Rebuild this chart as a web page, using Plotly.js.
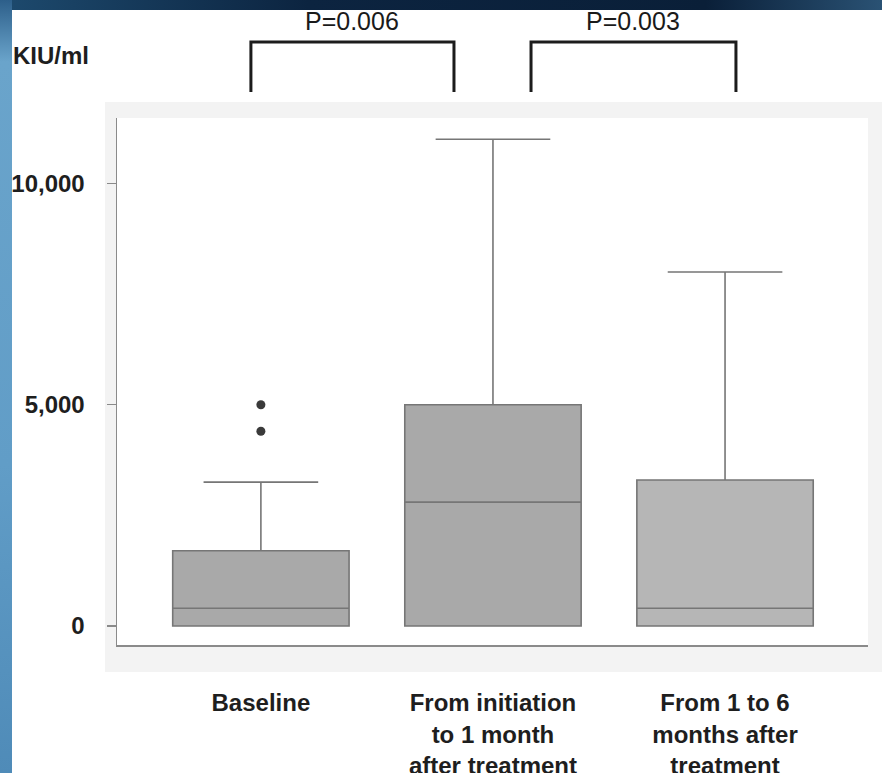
<!DOCTYPE html>
<html><head><meta charset="utf-8">
<script src="https://cdn.plot.ly/plotly-3.0.1.min.js"></script>
<style>
html,body{margin:0;padding:0;width:882px;height:773px;overflow:hidden;background:#fff;}
#bgtop{position:absolute;left:0;top:0;width:882px;height:10px;background:linear-gradient(90deg,#1d4a6e 0%,#0c2440 35%,#0a1f38 80%,#2a5274 100%);}
#bgleft{position:absolute;left:0;top:0;width:12px;height:773px;background:linear-gradient(180deg,#2d5f8a 0%,#6aa4cb 8%,#619dc7 60%,#4f8bb8 100%);}
#chart{position:absolute;left:0;top:0;width:882px;height:773px;}
</style></head><body>
<div id="bgtop"></div><div id="bgleft"></div><div id="chart"></div>
<script>
// ---- data ----
const categories = ["Baseline", "From initiation<br>to 1 month<br>after treatment", "From 1 to 6<br>months after<br>treatment"];
const q1Values = [0, 0, 0];
const medianValues = [400, 2800, 400];
const q3Values = [1700, 5000, 3300];
const lowerWhiskers = [0, 0, 0];
const upperWhiskers = [3250, 11000, 8000];
const outlierGroup = [0, 0];
const outlierValues = [5000, 4400];
const yTickVals = [0, 5000, 10000];
const yTickText = ["0", "5,000", "10,000"];
const pLabels = ["P=0.006", "P=0.003"];
const bracketLeft = [-0.043, 1.164];
const bracketRight = [0.832, 2.047];
const yUnit = "KIU/ml";

// ---- styles ----
const fills = ['#a9a9a9', '#a9a9a9', '#b6b6b6'];
const FONT = '"Liberation Sans", Arial, sans-serif';
const boldFont = (s) => ({family: FONT, size: s, color: '#1e1e1e', weight: 700});

const traces = categories.map((c, i) => ({
  type: 'box',
  x: [i],
  q1: [q1Values[i]],
  median: [medianValues[i]],
  q3: [q3Values[i]],
  lowerfence: [lowerWhiskers[i]],
  upperfence: [upperWhiskers[i]],
  width: 0.76,
  whiskerwidth: 0.65,
  fillcolor: fills[i],
  line: {color: '#767676', width: 1.6},
  boxpoints: false,
  hoverinfo: 'skip',
  showlegend: false
}));
traces.push({
  type: 'scatter', mode: 'markers',
  x: outlierGroup, y: outlierValues,
  marker: {color: '#3a3a3a', size: 9},
  hoverinfo: 'skip', showlegend: false
});

const W = 882 - 117 - 14, H = 773 - 118 - 128;
const px2paperX = (p) => (p - 117) / W;
const px2paperY = (p) => (645 - p) / H;

const shapes = [
  {type: 'rect', xref: 'paper', yref: 'paper', x0: px2paperX(105), x1: px2paperX(882), y0: px2paperY(672), y1: px2paperY(102),
   fillcolor: '#f3f3f3', line: {width: 0}, layer: 'below'},
  {type: 'rect', xref: 'paper', yref: 'paper', x0: 0, x1: 1, y0: 0, y1: 1,
   fillcolor: '#ffffff', line: {width: 0}, layer: 'below'}
];
const yb = px2paperY(92), yt = px2paperY(42);
bracketLeft.forEach((l, i) => {
  const r = bracketRight[i];
  shapes.push({type: 'path', xref: 'x', yref: 'paper',
    path: `M ${l},${yb} L ${l},${yt} L ${r},${yt} L ${r},${yb}`,
    line: {color: '#1c1c1c', width: 3}});
});

const annotations = [
  {text: yUnit, xref: 'paper', yref: 'paper', x: px2paperX(11), y: px2paperY(56),
   xanchor: 'left', yanchor: 'middle', showarrow: false, font: boldFont(24)}
];
pLabels.forEach((t, i) => {
  annotations.push({text: t, xref: 'x', yref: 'paper', x: (bracketLeft[i] + bracketRight[i]) / 2, y: px2paperY(21),
    xanchor: 'center', yanchor: 'middle', showarrow: false,
    font: {family: FONT, size: 25, color: '#1a1a1a'}});
});

const layout = {
  width: 882, height: 773,
  margin: {l: 117, r: 14, t: 118, b: 128},
  paper_bgcolor: 'rgba(0,0,0,0)',
  plot_bgcolor: '#ffffff',
  showlegend: false,
  xaxis: {
    range: [-0.62, 2.616],
    tickvals: [0, 1, 2], ticktext: categories,
    showline: true, linecolor: '#8a8a8a', linewidth: 1.5,
    showgrid: false, zeroline: false, ticks: '',
    ticklabelstandoff: 36,
    tickfont: boldFont(24)
  },
  yaxis: {
    range: [-430, 11480],
    tickvals: yTickVals, ticktext: yTickText,
    showline: true, linecolor: '#8a8a8a', linewidth: 1.5,
    showgrid: false, zeroline: false,
    ticks: 'outside', ticklen: 9, tickcolor: '#8a8a8a', tickwidth: 1.2,
    ticklabelstandoff: 17,
    tickfont: boldFont(24)
  },
  shapes: shapes,
  annotations: annotations
};

Plotly.newPlot('chart', traces, layout, {displayModeBar: false, staticPlot: true});
</script>
</body></html>
